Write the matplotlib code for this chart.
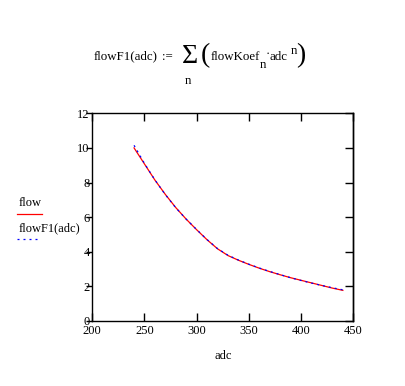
import matplotlib
matplotlib.use('Agg')
import matplotlib.pyplot as plt

plt.rcParams['font.family'] = ['Liberation Serif', 'DejaVu Serif']

# measured points (adc -> flow)
adc = [240, 250, 260, 270, 280, 290, 300, 310, 320, 330, 340,
       350, 360, 370, 380, 390, 400, 410, 420, 430, 440]
flow = [10.0, 9.07, 8.14, 7.31, 6.55, 5.88, 5.27, 4.69, 4.17, 3.78, 3.51,
        3.27, 3.05, 2.85, 2.67, 2.5, 2.35, 2.2, 2.05, 1.9, 1.77]
# polynomial fit flowF1(adc)
fit = [10.15, 9.1, 8.15, 7.3, 6.54, 5.88, 5.28, 4.7, 4.18, 3.8, 3.52,
       3.28, 3.06, 2.86, 2.68, 2.5, 2.34, 2.19, 2.05, 1.92, 1.8]

xticks = [200, 250, 300, 350, 400, 450]
yticks = [0, 2, 4, 6, 8, 10, 12]

W, H = 406, 386


def px(x, y):
    return x / W, 1 - y / H


fig = plt.figure(figsize=(4.06, 3.86), dpi=100)
ax = fig.add_axes([0.2273, 0.1684, 0.6429, 0.5381])

dots = (0, (1.6, 3.2))
ax.plot(adc, flow, color='red', lw=0.9)
ax.plot(adc, fit, color='blue', lw=0.9, linestyle=dots)

ax.set_xlim(200, 450)
ax.set_ylim(0, 12)
ax.set_xticks(xticks)
ax.set_yticks(yticks)
for s in ax.spines.values():
    s.set_linewidth(1.0)

ax.tick_params(axis='x', which='both', direction='in', top=True, length=6,
               width=1.0, labelsize=9, pad=3)
ax.tick_params(axis='y', which='both', direction='out', left=True, length=4,
               width=1.0, labelsize=9, pad=-2)
# right side ticks point inward
ax2 = ax.secondary_yaxis('right')
ax2.set_yticks(yticks)
ax2.tick_params(direction='in', length=6, width=1.0, labelright=False)
ax2.spines['right'].set_linewidth(1.0)

ax.set_xlabel('adc', fontsize=9, labelpad=9)

# legend on the left
fig.text(*px(19, 206), 'flow', fontsize=9, va='baseline', ha='left')
fig.add_artist(plt.Line2D([17 / W, 42 / W], [1 - 214 / H] * 2, color='red', lw=0.9))
fig.text(*px(19, 231.5), 'flowF1(adc)', fontsize=9, va='baseline', ha='left')
fig.add_artist(plt.Line2D([17 / W, 38 / W], [1 - 239 / H] * 2, color='blue', lw=0.9,
                          linestyle=dots))

# definition above the plot, built piece by piece
fs = 9.3
base = 59.5
fig.text(*px(94, base), 'flowF1(adc)', fontsize=fs, va='baseline', ha='left')
fig.text(*px(162, base), ':=', fontsize=fs, va='baseline', ha='left')
fig.text(*px(190, 56.5), 'Σ', fontsize=20, va='center', ha='center')
fig.text(*px(187.5, 84), 'n', fontsize=fs, va='baseline', ha='center')
fig.text(*px(205, 55.5), '(', fontsize=20, va='center', ha='center')
fig.text(*px(211, base), 'flowKoef', fontsize=fs, va='baseline', ha='left')
fig.text(*px(260, 68), 'n', fontsize=fs, va='baseline', ha='left')
fig.text(*px(267.5, 57), '·', fontsize=fs, va='baseline', ha='center')
fig.text(*px(270, base), 'adc', fontsize=fs, va='baseline', ha='left')
fig.text(*px(290.5, 54), 'n', fontsize=fs, va='baseline', ha='left')
fig.text(*px(301, 55.5), ')', fontsize=20, va='center', ha='center')

fig.savefig('out.png', dpi=100)
